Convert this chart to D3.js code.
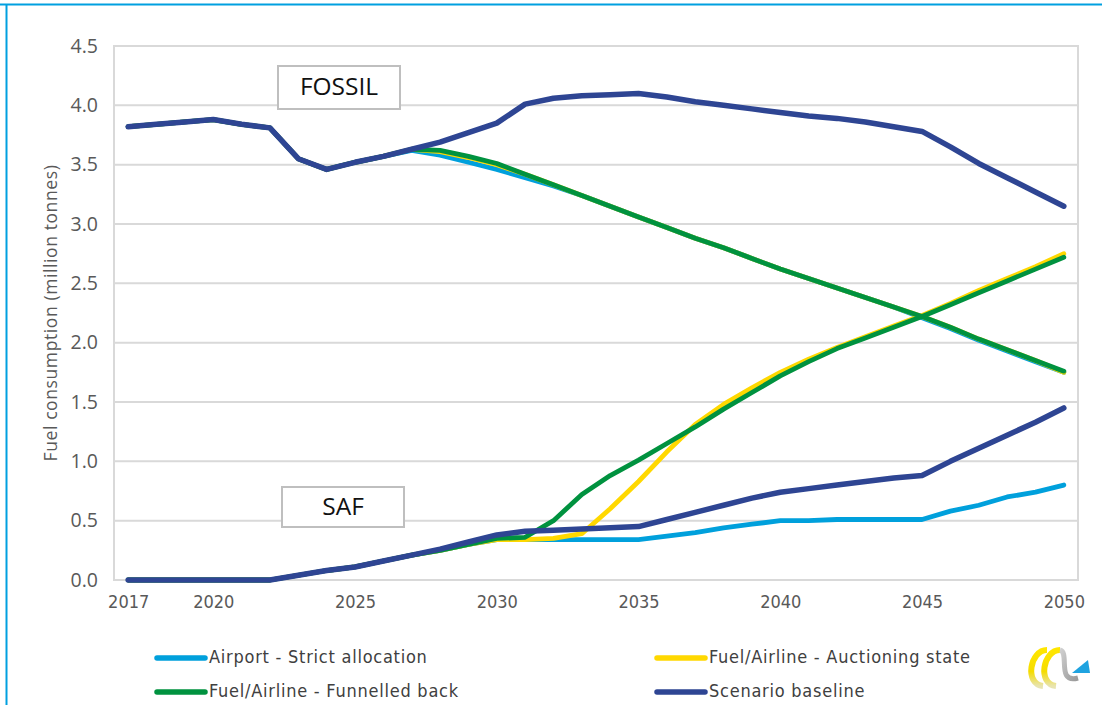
<!DOCTYPE html>
<html>
<head>
<meta charset="utf-8">
<script src="https://cdn.jsdelivr.net/npm/d3@7"></script>
<style>
  html, body { margin: 0; padding: 0; background: #fff; }
  svg { display: block; }
</style>
</head>
<body>
<svg id="chart" width="1102" height="705"></svg>
<script>
// ---------------- DATA ----------------
const years = [2017,2018,2019,2020,2021,2022,2023,2024,2025,2026,2027,2028,2029,2030,2031,2032,2033,2034,2035,2036,2037,2038,2039,2040,2041,2042,2043,2044,2045,2046,2047,2048,2049,2050];
const xTickYears = [2017, 2020, 2025, 2030, 2035, 2040, 2045, 2050];
const yTicks = [0, 0.5, 1.0, 1.5, 2.0, 2.5, 3.0, 3.5, 4.0, 4.5];

// Fossil fuel (million tonnes)
const airportFossil   = [3.82,3.84,3.86,3.88,3.84,3.81,3.55,3.46,3.52,3.57,3.62,3.58,3.52,3.46,3.39,3.32,3.24,3.15,3.06,2.97,2.88,2.80,2.71,2.62,2.54,2.46,2.38,2.30,2.21,2.12,2.02,1.93,1.84,1.75];
const auctionFossil   = [3.82,3.84,3.86,3.88,3.84,3.81,3.55,3.46,3.52,3.57,3.63,3.61,3.56,3.50,3.42,3.33,3.24,3.15,3.06,2.97,2.88,2.80,2.71,2.62,2.54,2.46,2.38,2.30,2.22,2.13,2.03,1.94,1.85,1.75];
const funnelFossil    = [3.82,3.84,3.86,3.88,3.84,3.81,3.55,3.46,3.52,3.57,3.63,3.62,3.57,3.51,3.42,3.33,3.24,3.15,3.06,2.97,2.88,2.80,2.71,2.62,2.54,2.46,2.38,2.30,2.22,2.13,2.03,1.94,1.85,1.76];
const baselineFossil  = [3.82,3.84,3.86,3.88,3.84,3.81,3.55,3.46,3.52,3.57,3.63,3.69,3.77,3.85,4.01,4.06,4.08,4.09,4.10,4.07,4.03,4.00,3.97,3.94,3.91,3.89,3.86,3.82,3.78,3.65,3.51,3.39,3.27,3.15];

// Sustainable aviation fuel (million tonnes)
const airportSAF      = [0,0,0,0,0,0,0.04,0.08,0.11,0.16,0.21,0.25,0.30,0.34,0.34,0.34,0.34,0.34,0.34,0.37,0.40,0.44,0.47,0.50,0.50,0.51,0.51,0.51,0.51,0.58,0.63,0.70,0.74,0.80];
const auctionSAF      = [0,0,0,0,0,0,0.04,0.08,0.11,0.16,0.21,0.25,0.30,0.34,0.34,0.35,0.39,0.60,0.83,1.08,1.31,1.48,1.62,1.75,1.86,1.96,2.05,2.14,2.23,2.33,2.44,2.54,2.64,2.75];
const funnelSAF       = [0,0,0,0,0,0,0.04,0.08,0.11,0.16,0.21,0.25,0.30,0.35,0.36,0.50,0.72,0.88,1.01,1.15,1.29,1.44,1.58,1.72,1.84,1.95,2.04,2.13,2.22,2.32,2.42,2.52,2.62,2.72];
const baselineSAF     = [0,0,0,0,0,0,0.04,0.08,0.11,0.16,0.21,0.26,0.32,0.38,0.41,0.42,0.43,0.44,0.45,0.51,0.57,0.63,0.69,0.74,0.77,0.80,0.83,0.86,0.88,1.00,1.11,1.22,1.33,1.45];

const seriesNames  = ["Airport - Strict allocation", "Fuel/Airline - Auctioning state", "Fuel/Airline - Funnelled back", "Scenario baseline"];
const seriesColors = ["#00A0DC", "#FFD800", "#00923F", "#2E4593"];
const annotationLabels = ["FOSSIL", "SAF"];
const yAxisTitle = "Fuel consumption (million tonnes)";

// ---------------- LAYOUT ----------------
const svg = d3.select("#chart");
const W = 1102, H = 705;
const plot = { left: 114, right: 1078, top: 46, bottom: 580 };
const condFont = "'DejaVu Sans Condensed', 'DejaVu Sans', sans-serif";

const x = d3.scalePoint().domain(years).range([plot.left, plot.right]).padding(0.5);
const y = d3.scaleLinear().domain([0, 4.5]).range([plot.bottom, plot.top]);

// outer frame (top + left border lines)
svg.append("line").attr("x1", 0).attr("x2", W).attr("y1", 4.5).attr("y2", 4.5)
  .attr("stroke", "#00A0E0").attr("stroke-width", 2);
svg.append("line").attr("x1", 6.5).attr("x2", 6.5).attr("y1", 4).attr("y2", H)
  .attr("stroke", "#00A0E0").attr("stroke-width", 2);

// gridlines
const gridColor = "#D9D9D9";
svg.append("g").selectAll("line").data(yTicks).join("line")
  .attr("x1", plot.left).attr("x2", plot.right)
  .attr("y1", d => y(d)).attr("y2", d => y(d))
  .attr("stroke", gridColor).attr("stroke-width", 2);
svg.append("line").attr("x1", plot.left).attr("x2", plot.left).attr("y1", plot.top - 1).attr("y2", plot.bottom + 1)
  .attr("stroke", gridColor).attr("stroke-width", 2);
svg.append("line").attr("x1", plot.right).attr("x2", plot.right).attr("y1", plot.top - 1).attr("y2", plot.bottom + 1)
  .attr("stroke", gridColor).attr("stroke-width", 2);

// y axis
const yAxis = d3.axisLeft(y).tickValues(yTicks).tickFormat(d3.format(".1f")).tickSize(0).tickPadding(16);
const gy = svg.append("g").attr("transform", `translate(${plot.left},0)`).call(yAxis);
gy.select(".domain").remove();
gy.selectAll("text").attr("font-family", "'Open Sans', sans-serif").attr("font-size", 19.5)
  .attr("fill", "#595959");

// x axis
const xAxis = d3.axisBottom(x).tickValues(xTickYears).tickSize(0).tickPadding(15);
const gx = svg.append("g").attr("transform", `translate(0,${plot.bottom})`).call(xAxis);
gx.select(".domain").remove();
gx.selectAll("text").attr("font-family", condFont)
  .style("font-stretch", "condensed").attr("font-size", 18).attr("fill", "#595959");

// y axis title
svg.append("text")
  .attr("transform", `translate(57,${(plot.top + plot.bottom) / 2}) rotate(-90)`)
  .attr("text-anchor", "middle")
  .attr("font-family", "'Open Sans', sans-serif").attr("font-size", 17.5).attr("letter-spacing", 0.6)
  .attr("fill", "#595959")
  .text(yAxisTitle);

// annotation boxes
const boxes = [
  { label: annotationLabels[0], x0: 278, y0: 66, w: 122, h: 43 },
  { label: annotationLabels[1], x0: 282, y0: 487, w: 122, h: 40 }
];
boxes.forEach(b => {
  svg.append("rect").attr("x", b.x0).attr("y", b.y0).attr("width", b.w).attr("height", b.h)
    .attr("fill", "#fff").attr("stroke", "#BFBFBF").attr("stroke-width", 2);
  svg.append("text").attr("x", b.x0 + b.w / 2).attr("y", b.y0 + b.h / 2 + 1)
    .attr("text-anchor", "middle").attr("dominant-baseline", "middle")
    .attr("font-family", "'Open Sans', sans-serif").attr("font-size", 24.5).attr("fill", "#111")
    .text(b.label);
});

// lines
const fossilData = [airportFossil, auctionFossil, funnelFossil, baselineFossil];
const safData = [airportSAF, auctionSAF, funnelSAF, baselineSAF];
const line = d3.line().x((d, i) => x(years[i])).y(d => y(d));
const lg = svg.append("g").attr("fill", "none").attr("stroke-linejoin", "round").attr("stroke-linecap", "round");
[0, 1, 2, 3].forEach(k => {
  [safData[k], fossilData[k]].forEach(arr => {
    lg.append("path").datum(arr).attr("d", line)
      .attr("stroke", seriesColors[k]).attr("stroke-width", k === 3 ? 5.5 : 4.8);
  });
});

// legend
const legendPos = [
  { lx: 155, ty: 658 }, { lx: 655, ty: 658 },
  { lx: 155, ty: 692 }, { lx: 655, ty: 692 }
];
const lgd = svg.append("g");
seriesNames.forEach((name, k) => {
  const p = legendPos[k];
  lgd.append("line").attr("x1", p.lx + 2).attr("x2", p.lx + 50).attr("y1", p.ty).attr("y2", p.ty)
    .attr("stroke", seriesColors[k]).attr("stroke-width", 5.5).attr("stroke-linecap", "round");
  lgd.append("text").attr("x", p.lx + 54).attr("y", p.ty).attr("dominant-baseline", "middle")
    .attr("font-family", condFont).style("font-stretch", "condensed")
    .attr("font-size", 18).attr("letter-spacing", 0.75)
    .attr("fill", "#404040").text(name);
});

// logo (bottom right)
const logo = svg.append("g");
const defs = svg.append("defs");
const gradY = defs.append("linearGradient").attr("id", "gy").attr("x1", "0").attr("y1", "0").attr("x2", "0").attr("y2", "1");
gradY.append("stop").attr("offset", "0").attr("stop-color", "#FFE600");
gradY.append("stop").attr("offset", "0.6").attr("stop-color", "#F5DC00");
gradY.append("stop").attr("offset", "1").attr("stop-color", "#E8E4B0");
const gradG = defs.append("linearGradient").attr("id", "gg").attr("x1", "0").attr("y1", "0").attr("x2", "1").attr("y2", "1");
gradG.append("stop").attr("offset", "0").attr("stop-color", "#D0D0D0");
gradG.append("stop").attr("offset", "1").attr("stop-color", "#9A9A9A");
logo.append("path").attr("d", "M1047,650 C1030,650 1024,684 1043,686")
  .attr("fill", "none").attr("stroke", "url(#gy)").attr("stroke-width", 6);
logo.append("path").attr("d", "M1060,650 C1043,650 1037,684 1056,686")
  .attr("fill", "none").attr("stroke", "url(#gy)").attr("stroke-width", 6);
logo.append("path").attr("d", "M1060,650 C1070,652 1056,684 1078,678")
  .attr("fill", "none").attr("stroke", "url(#gg)").attr("stroke-width", 5);
logo.append("path").attr("d", "M1072,673 L1090,673 L1088,660 Z").attr("fill", "#1FA3E0");
</script>
</body>
</html>
